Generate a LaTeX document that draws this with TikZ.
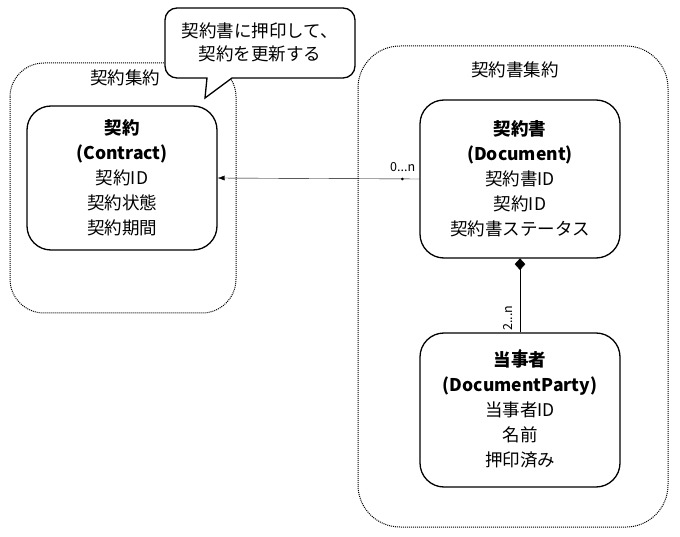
\documentclass[tikz,border=0pt]{standalone}
\usepackage{fontspec}
\setmainfont{Noto Sans CJK JP}
\usetikzlibrary{positioning, arrows.meta}

\begin{document}
\begin{tikzpicture}[
	x=1pt, y=-1pt,
	entity/.style={draw, line width=1.3pt, rectangle, rounded corners=24, minimum width=190pt, align=center, fill=white, font=\fontsize{17.5}{25}\selectfont},
	aggregate/.style={draw, line width=1pt, dash pattern=on 1pt off 1pt, rounded corners=34},
	arrow/.style={-{Latex[length=7pt, width=5pt]}},
	mult/.style={font=\fontsize{12.5}{14}\selectfont, inner sep=1pt},
	font=\fontsize{17.5}{23}\selectfont
	]
	\useasboundingbox (0,0) rectangle (680,537);

	% aggregates
	\draw[aggregate] (10,63) rectangle (236,313);
	\draw[aggregate, rounded corners=42] (358,46) rectangle (668,527);
	\node (conagg) at (125,78) {契約集約};
	\node (docagg) at (515,70) {契約書集約};

	% entities
	\node[entity, minimum height=144pt] (con) at (122,178) {\textbf{契約}\\\textbf{(Contract)}\\契約ID\\契約状態\\契約期間};
	\node[entity, minimum height=158pt, minimum width=200pt] (doc) at (520,179) {\textbf{契約書}\\\textbf{(Document)}\\契約書ID\\契約ID\\契約書ステータス};
	\node[entity, minimum height=154pt, minimum width=200pt] (party) at (520,410) {\textbf{当事者}\\\textbf{(DocumentParty)}\\当事者ID\\名前\\押印済み};

	% relations
	\draw[arrow] (doc.west) -- (con.east);
	\fill ([xshift=-17pt]doc.west) circle (1.4pt);
	\node[mult, above left=6pt and 3pt of doc.west] (docmult) {0...n};

	\draw (party.north) -- (doc.south);
	\fill[draw, thin] (doc.south) -- ++(5,5.5) -- ++(-5,5.5) -- ++(-5,-5.5) -- cycle;
	\fill ([yshift=-18pt]party.north) circle (1.4pt);
	\node[mult, rotate=90, anchor=south] (partymult) at (514,318) {2...n};

	% note
	\draw[line width=1.3pt, fill=white] (205,98) -- (207,78) [rounded corners=12] -- (165,78) -- (165,8) -- (355,8) -- (355,78) [sharp corners] -- (232,78) -- cycle;
	\node[align=center] (note) at (260,42) {契約書に押印して、\\契約を更新する};

\end{tikzpicture}
\end{document}
